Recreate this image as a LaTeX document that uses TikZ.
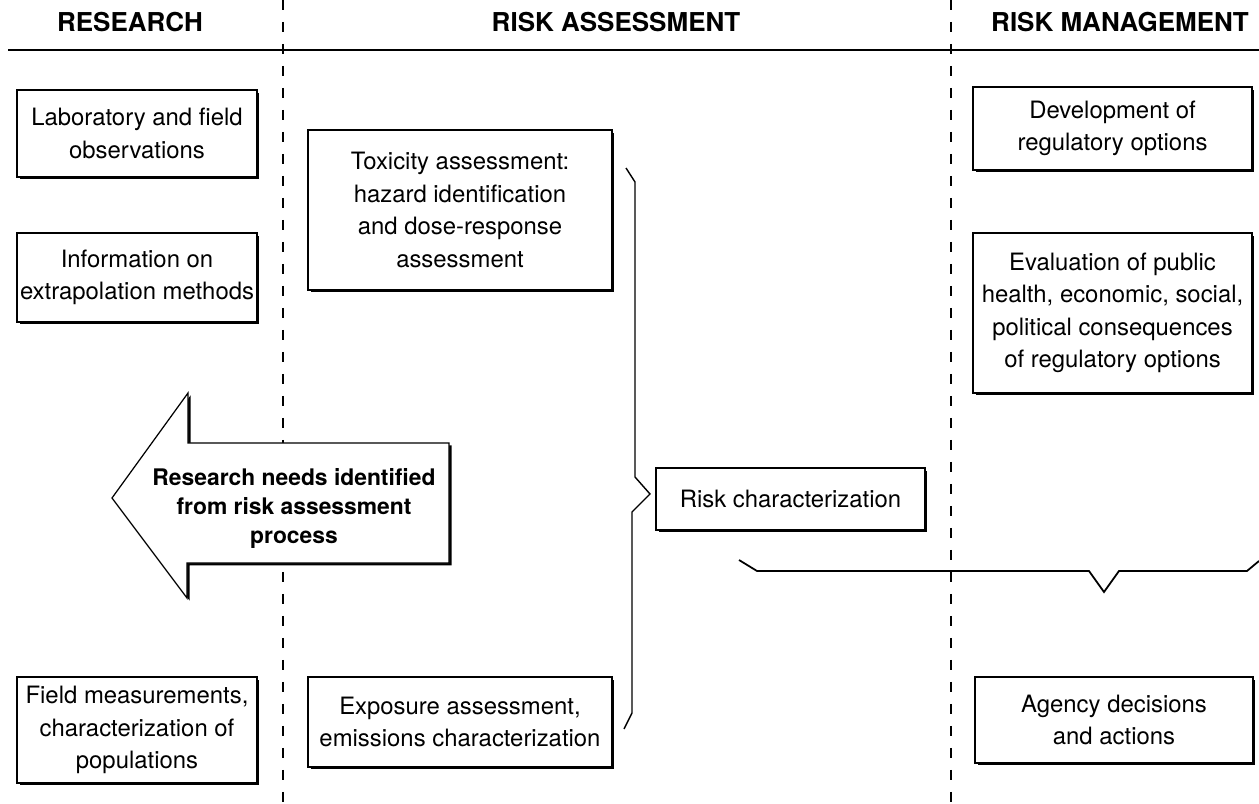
\documentclass[tikz,border=0pt]{standalone}
\usepackage{fontspec}
\setmainfont{TeX Gyre Heros}
\usepackage{tikz}
\usetikzlibrary{shadows}

\tikzset{
  box/.style={draw, fill=white, line width=0.7pt, align=center, inner sep=0pt,
    font=\fontsize{13.6}{18.5}\selectfont,
    drop shadow={shadow xshift=0.05cm, shadow yshift=-0.05cm, opacity=1, fill=black}},
  head/.style={font=\fontsize{14.8}{18}\selectfont\bfseries},
  divider/.style={dash pattern=on 0.2cm off 0.24cm},
  brace/.style={line width=0.8pt}
}

\begin{document}
\begin{tikzpicture}[x=0.02cm, y=-0.02cm]
\useasboundingbox (0,0) rectangle (1259,804);

\node[head] (research) at (130,22) {RESEARCH};
\node[head] (assess) at (616,22) {RISK ASSESSMENT};
\node[head] (manage) at (1120,22) {RISK MANAGEMENT};
\draw[line width=1.2pt] (8,50) -- (1259,50);
\draw[divider, line width=0.6pt] (283,0) -- (283,804);
\draw[divider, line width=1.1pt] (951,0) -- (951,804);

\node[box, minimum width=4.8cm, minimum height=1.74cm] (lab) at (137,133.5) {Laboratory and field\\observations};
\node[box, minimum width=4.8cm, minimum height=1.78cm] (info) at (137,277.5) {Information on\\extrapolation methods};
\node[box, minimum width=4.8cm, minimum height=2.12cm] (field) at (137,730) {Field measurements,\\characterization of\\populations};

\node[box, minimum width=6.08cm, minimum height=3.2cm] (tox) at (460,210) {Toxicity assessment:\\hazard identification\\and dose-response\\assessment};
\node[box, minimum width=6.08cm, minimum height=1.8cm] (expo) at (460,722) {Exposure assessment,\\emissions characterization};
\node[box, minimum width=5.38cm, minimum height=1.24cm] (risk) at (790.5,499) {Risk characterization};

\node[box, minimum width=5.58cm, minimum height=1.66cm] (dev) at (1112.5,128.5) {Development of\\regulatory options};
\node[box, minimum width=5.58cm, minimum height=3.2cm] (eval) at (1112.5,313) {Evaluation of public\\health, economic, social,\\political consequences\\of regulatory options};
\node[box, minimum width=5.56cm, minimum height=1.72cm] (agency) at (1114,720) {Agency decisions\\and actions};

\draw[line width=0.7pt, fill=white, drop shadow={shadow xshift=0.05cm, shadow yshift=-0.05cm, opacity=1, fill=black}]
  (449,443) -- (188,443) -- (188,393) -- (112,498) -- (187,598) -- (187,563) -- (449,563) -- cycle;
\node[align=center, font=\fontsize{13}{16.5}\selectfont\bfseries] (needs) at (294,508) {Research needs identified\\from risk assessment\\process};

\draw[brace] (626,168) -- (635,182) -- (635,477) -- (650,494) -- (632,512) -- (632,713) -- (624,729);
\draw[brace, line width=1pt] (739,560) -- (757,571) -- (1089,571) -- (1104,592) -- (1119,571) -- (1247,571) -- (1259,561);
\end{tikzpicture}
\end{document}
